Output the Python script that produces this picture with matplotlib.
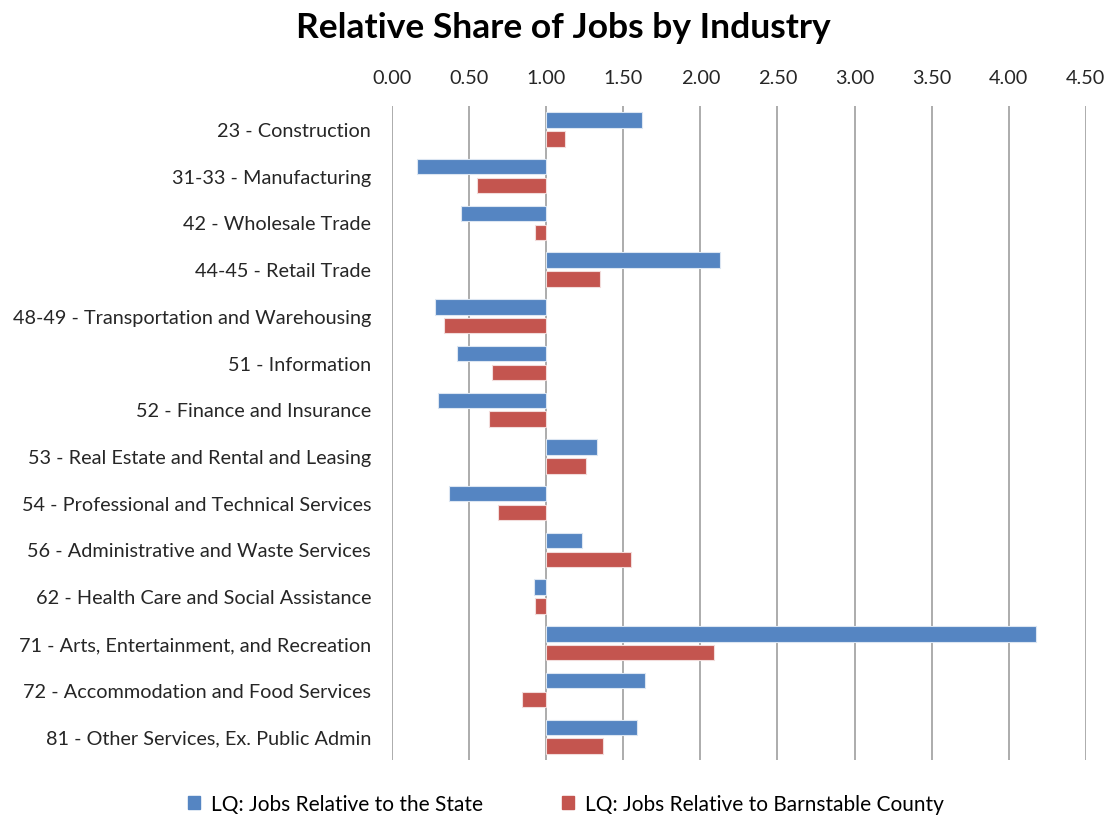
import numpy as np
import matplotlib.pyplot as plt
from matplotlib.patches import Patch

# dane
industries = ["23 - Construction", "31-33 - Manufacturing", "42 - Wholesale Trade",
              "44-45 - Retail Trade", "48-49 - Transportation and Warehousing",
              "51 - Information", "52 - Finance and Insurance",
              "53 - Real Estate and Rental and Leasing",
              "54 - Professional and Technical Services",
              "56 - Administrative and Waste Services",
              "62 - Health Care and Social Assistance",
              "71 - Arts, Entertainment, and Recreation",
              "72 - Accommodation and Food Services",
              "81 - Other Services, Ex. Public Admin"]
lq_state = [1.62, 0.16, 0.45, 2.13, 0.28, 0.42, 0.30, 1.33, 0.37, 1.23, 0.92, 4.18, 1.64, 1.59]
lq_county = [1.12, 0.55, 0.93, 1.35, 0.34, 0.65, 0.63, 1.26, 0.69, 1.55, 0.93, 2.09, 0.84, 1.37]
series_names = ["LQ: Jobs Relative to the State", "LQ: Jobs Relative to Barnstable County"]
xticks = np.arange(0, 4.51, 0.5)

blue = "#5585C2"
red = "#C4554F"
plt.rcParams['font.family'] = ['Lato', 'DejaVu Sans']

fig = plt.figure(figsize=(11.16, 8.2), dpi=100)
ax = fig.add_axes([0.3513, 0.0723, 0.9729 - 0.3513, 0.8699 - 0.0723])

y = np.arange(len(industries))
h = 0.33
ax.barh(y - 0.195, np.array(lq_state) - 1, h, left=1, color=blue, edgecolor="#DCE6F2", linewidth=0.8, zorder=3)
ax.barh(y + 0.21, np.array(lq_county) - 1, h, left=1, color=red, edgecolor="#F2DCDB", linewidth=0.8, zorder=3)

ax.set_xlim(0, 4.5)
ax.set_ylim(len(industries) - 0.5, -0.5)
ax.set_xticks(xticks)
ax.set_xticklabels(["%.2f" % t for t in xticks])
ax.xaxis.tick_top()
ax.set_yticks(y)
ax.set_yticklabels(industries)
ax.tick_params(axis='both', length=0, labelsize=14.3, colors="#262626")
ax.tick_params(axis='x', pad=14)
ax.tick_params(axis='y', pad=15)
for s in ax.spines.values():
    s.set_visible(False)
ax.grid(axis='x', color="#A6A6A6", linewidth=1.3, zorder=0)

fig.suptitle("Relative Share of Jobs by Industry", x=0.505, y=0.985, fontsize=25.5, fontweight='bold')

handles = [Patch(color=blue), Patch(color=red)]
fig.legend(handles, series_names, loc='lower center', bbox_to_anchor=(0.507, -0.017), ncol=2,
           frameon=False, fontsize=15, handlelength=0.6, handleheight=0.6,
           handletextpad=0.5, columnspacing=3.8)

plt.savefig("out.png", dpi=100)
